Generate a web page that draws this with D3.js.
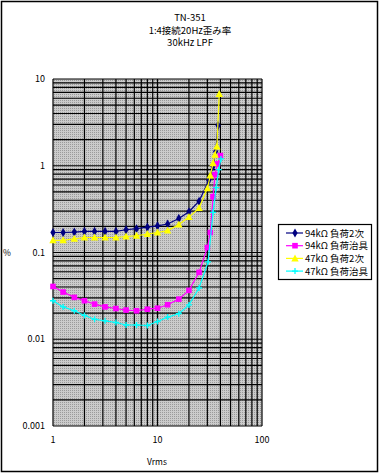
<!DOCTYPE html>
<html>
<head>
<meta charset="utf-8">
<script src="https://cdn.jsdelivr.net/npm/d3@7"></script>
<style>
  body { margin: 0; background: #fff; }
  svg { display: block; font-family: "Noto Sans CJK JP", "DejaVu Sans", sans-serif; }
</style>
</head>
<body>
<svg width="382" height="475"></svg>
<script>
// chart data
const titleLines = ["TN-351", "1:4接続20Hz歪み率", "30kHz LPF"];
const seriesNames = ["94kΩ 負荷2次", "94kΩ 負荷治具", "47kΩ 負荷2次", "47kΩ 負荷治具"];
const seriesColors = ["#000080", "#ff00ff", "#ffff00", "#00ffff"];
const xTicks = [1, 10, 100];
const yTicks = [10, 1, 0.1, 0.01, 0.001];

const baseX = [1, 1.25, 1.6, 2, 2.5, 3.15, 4, 5, 6.3, 8, 10, 12.5, 16, 20, 25];

const blueX = baseX.concat([31, 34, 36, 38]);
const blueY = [0.17, 0.17, 0.172, 0.175, 0.175, 0.175, 0.175, 0.183, 0.188, 0.196, 0.203, 0.213, 0.247, 0.295, 0.39,
  0.68, 0.98, 1.46, 2.92];

const magX = baseX.concat([30, 32, 34, 35.5, 37.5, 40]);
const magY = [0.0406, 0.035, 0.0304, 0.0278, 0.0254, 0.0236, 0.0226, 0.0217, 0.0213, 0.0222, 0.0228, 0.025, 0.029, 0.0366, 0.059,
  0.114, 0.17, 0.44, 0.79, 1.05, 1.31];

const yelX = baseX.concat([30, 32, 34, 35.5, 37, 39]);
const yelY = [0.138, 0.138, 0.144, 0.149, 0.149, 0.149, 0.149, 0.153, 0.156, 0.163, 0.17, 0.179, 0.21, 0.256, 0.325,
  0.55, 0.77, 1.07, 1.34, 1.67, 6.7];

const cyaX = baseX.concat([30.5, 34, 36.5, 38.5, 40.5]);
const cyaY = [0.0278, 0.0236, 0.0213, 0.0188, 0.017, 0.0163, 0.0156, 0.0146, 0.0146, 0.0144, 0.016, 0.018, 0.0197, 0.0249, 0.039,
  0.078, 0.29, 0.56, 0.9, 1.2];

const svg = d3.select("svg");

// outer frame
svg.append("rect")
  .attr("x", 1.5).attr("y", 1.5)
  .attr("width", 376).attr("height", 470)
  .attr("fill", "#fff").attr("stroke", "#000").attr("stroke-width", 1.5);

// title
svg.append("g").selectAll("text")
  .data(titleLines)
  .enter().append("text")
  .attr("x", 190)
  .attr("y", (d, i) => 21 + i * 12.5)
  .attr("text-anchor", "middle")
  .attr("font-size", 9.5)
  .text(d => d);

const x = d3.scaleLog().domain([1, 100]).range([53, 262]);
const y = d3.scaleLog().domain([0.001, 10]).range([426, 79]);

// dotted grey plot background
const defs = svg.append("defs");
const pat = defs.append("pattern")
  .attr("id", "dots").attr("width", 2).attr("height", 2)
  .attr("patternUnits", "userSpaceOnUse");
pat.append("rect").attr("width", 2).attr("height", 2).attr("fill", "#cbcbcb");
pat.append("rect").attr("width", 1).attr("height", 1).attr("fill", "#9a9a9a");

svg.append("rect")
  .attr("x", x(1)).attr("y", y(10))
  .attr("width", x(100) - x(1)).attr("height", y(0.001) - y(10))
  .attr("fill", "url(#dots)");

// grid: every 1..9 in each decade
const grid = svg.append("g").attr("stroke", "#000").attr("stroke-width", 1.2);
grid.selectAll("line.v")
  .data(x.ticks())
  .enter().append("line")
  .attr("class", "v")
  .attr("x1", d => x(d)).attr("x2", d => x(d))
  .attr("y1", y(10)).attr("y2", y(0.001));
grid.selectAll("line.h")
  .data(y.ticks())
  .enter().append("line")
  .attr("class", "h")
  .attr("y1", d => y(d)).attr("y2", d => y(d))
  .attr("x1", x(1)).attr("x2", x(100));

// axes labels
svg.append("g").selectAll("text")
  .data(yTicks)
  .enter().append("text")
  .attr("x", 45)
  .attr("y", d => y(d) + 3)
  .attr("text-anchor", "end")
  .attr("font-size", 9)
  .text(d => d);

svg.append("g").selectAll("text")
  .data(xTicks)
  .enter().append("text")
  .attr("x", d => x(d))
  .attr("y", 443)
  .attr("text-anchor", "middle")
  .attr("font-size", 9)
  .text(d => d);

svg.append("text").attr("x", 157).attr("y", 465)
  .attr("text-anchor", "middle").attr("font-size", 8.5).text("Vrms");
svg.append("text").attr("x", 7).attr("y", 256)
  .attr("text-anchor", "middle").attr("font-size", 8.5).text("%");

// series
const series = [
  { xs: blueX, ys: blueY, marker: "diamond" },
  { xs: magX, ys: magY, marker: "square" },
  { xs: yelX, ys: yelY, marker: "triangle" },
  { xs: cyaX, ys: cyaY, marker: "cross" }
];

const line = d3.line().x(d => x(d[0])).y(d => y(d[1]));

function drawMarker(g, type, color) {
  if (type === "diamond") {
    g.append("path").attr("d", d3.symbol(d3.symbolDiamond, 24)()).attr("fill", color);
  } else if (type === "square") {
    g.append("rect").attr("x", -2.8).attr("y", -2.8).attr("width", 5.6).attr("height", 5.6).attr("fill", color);
  } else if (type === "triangle") {
    g.append("path").attr("d", "M0,-4L3.7,3L-3.7,3Z").attr("fill", color);
  } else {
    g.append("path").attr("d", "M0,-3V3M-3,0H3").attr("stroke", color).attr("stroke-width", 1.3);
  }
}

series.forEach((s, i) => {
  const pts = s.xs.map((v, j) => [v, s.ys[j]]);
  svg.append("path")
    .datum(pts)
    .attr("d", line)
    .attr("fill", "none")
    .attr("stroke", seriesColors[i])
    .attr("stroke-width", 1.2);
  svg.append("g").selectAll("g")
    .data(pts)
    .enter().append("g")
    .attr("transform", d => `translate(${x(d[0])},${y(d[1])})`)
    .each(function() { drawMarker(d3.select(this), s.marker, seriesColors[i]); });
});

// legend
const leg = svg.append("g");
leg.append("rect")
  .attr("x", 278.5).attr("y", 224.5).attr("width", 93).attr("height", 55)
  .attr("fill", "#fff").attr("stroke", "#000").attr("stroke-width", 1.2);
seriesNames.forEach((name, i) => {
  const ly = 233 + i * 12.7;
  leg.append("line")
    .attr("x1", 286).attr("x2", 303).attr("y1", ly).attr("y2", ly)
    .attr("stroke", seriesColors[i]).attr("stroke-width", 1.2);
  const m = leg.append("g").attr("transform", `translate(295,${ly})`);
  drawMarker(m, series[i].marker, seriesColors[i]);
  leg.append("text")
    .attr("x", 305).attr("y", ly + 3.5)
    .attr("font-size", 9.5)
    .text(name);
});
</script>
</body>
</html>
